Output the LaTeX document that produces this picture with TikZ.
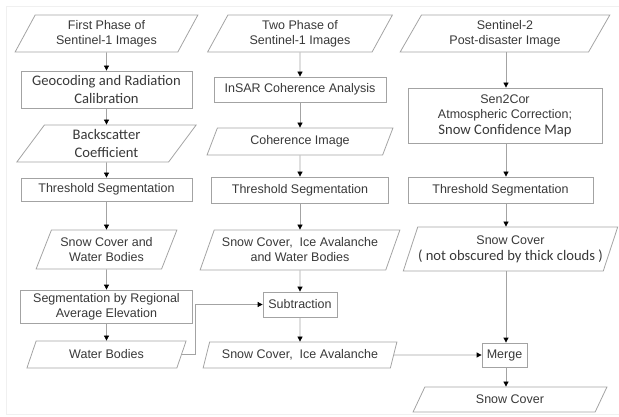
\documentclass[tikz,border=0pt]{standalone}
\usepackage{fontspec}
\setmainfont{Liberation Sans}
\newfontfamily\calib{Carlito}
\usetikzlibrary{shapes.geometric,arrows.meta}
\definecolor{edge}{HTML}{A3A3A3}
\definecolor{ink}{HTML}{383838}
\tikzset{
  proc/.style={draw=edge, line width=0.8pt, text=ink, align=center, inner sep=0pt,
    font=\fontsize{12.5}{15}\selectfont},
  data/.style={proc, shape=trapezium, trapezium left angle=62,
    trapezium right angle=118, trapezium stretches=true},
  cal/.style={font=\calib\fontsize{14.6}{18}\selectfont},
  flow/.style={draw=edge, line width=0.8pt,
    -{Triangle[length=5pt,width=5pt,color=black]}}
}
\begin{document}
\begin{tikzpicture}[x=1pt,y=-1pt]
\useasboundingbox (0,0) rectangle (619,417);
\draw[gray!12] (619,6) -- (6,6) -- (6,414) -- (619,414);
% first column
\node[data, minimum width=183pt, minimum height=37pt] (p1a) at (106.5,33.5) {First Phase of\\Sentinel-1 Images};
\node[proc, cal, minimum width=171pt, minimum height=37pt] (b1a) at (106.5,89.5) {Geocoding and Radiation\\Calibration};
\node[data, cal, minimum width=180pt, minimum height=37pt] (p1b) at (106.5,143.5) {Backscatter\\Coefficient};
\node[proc, minimum width=171pt, minimum height=23pt] (b1b) at (106.5,189.5) {Threshold Segmentation};
\node[data, minimum width=141pt, minimum height=39pt] (p1c) at (106.5,249.5) {Snow Cover and\\Water Bodies};
\node[proc, minimum width=172pt, minimum height=33pt] (b1c) at (106.5,306.5) {Segmentation by Regional\\Average Elevation};
\node[data, minimum width=160pt, minimum height=27pt] (p1d) at (106.5,354.5) {Water Bodies};
% second column
\node[data, minimum width=185pt, minimum height=37pt] (p2a) at (300,33.5) {Two Phase of\\Sentinel-1 Images};
\node[proc, minimum width=172pt, minimum height=25pt] (b2a) at (300,89.5) {InSAR Coherence Analysis};
\node[data, minimum width=186pt, minimum height=27pt] (p2b) at (300,141.5) {Coherence Image};
\node[proc, minimum width=177pt, minimum height=26pt] (b2b) at (300,190) {Threshold Segmentation};
\node[data, minimum width=200pt, minimum height=40pt] (p2c) at (300,250) {Snow Cover,\ \ Ice Avalanche\\and Water Bodies};
\node[proc, minimum width=74pt, minimum height=25pt] (b2c) at (300,304.5) {Subtraction};
\node[data, minimum width=194pt, minimum height=26pt] (p2d) at (300,355) {Snow Cover,\ \ Ice Avalanche};
% third column
\coordinate (ax3) at (506,0);
\node[data, minimum width=210pt, minimum height=37pt] (p3a) at (505,33.5) {Sentinel-2\\Post-disaster Image};
\node[proc, minimum width=194pt, minimum height=55pt] (b3a) at (505,115.5) {Sen2Cor\\Atmospheric Correction;\\[1pt]{\calib\fontsize{14.6}{18}\selectfont Snow Confidence Map}};
\node[proc, minimum width=185pt, minimum height=26pt] (b3b) at (500.5,190) {Threshold Segmentation};
\node[data, minimum width=215pt, minimum height=44pt] (p3b) at (510.5,249) {Snow Cover\\[1pt]{\calib\fontsize{14.6}{18}\selectfont ( not obscured by thick clouds )}};
\node[proc, minimum width=45pt, minimum height=24pt] (b3c) at (504.5,355) {Merge};
\node[data, minimum width=194pt, minimum height=25pt] (p3c) at (510,399.5) {Snow Cover};
% connectors
\foreach \a/\b in {p1a/b1a,b1a/p1b,p1b/b1b,b1b/p1c,p1c/b1c,b1c/p1d,
                   p2a/b2a,b2a/p2b,p2b/b2b,b2b/p2c,p2c/b2c,b2c/p2d}
  \draw[flow] (\a) -- (\b);
\foreach \a/\b in {p3a/b3a,b3a/b3b,b3b/p3b,p3b/b3c,b3c/p3c}
  \draw[flow] (ax3 |- \a.south) -- (ax3 |- \b.north);
\draw[flow] (p1d.east) -- ++(14,0) |- (b2c.west);
\draw[flow] (p2d.east) -- (b3c.west);
\end{tikzpicture}
\end{document}
